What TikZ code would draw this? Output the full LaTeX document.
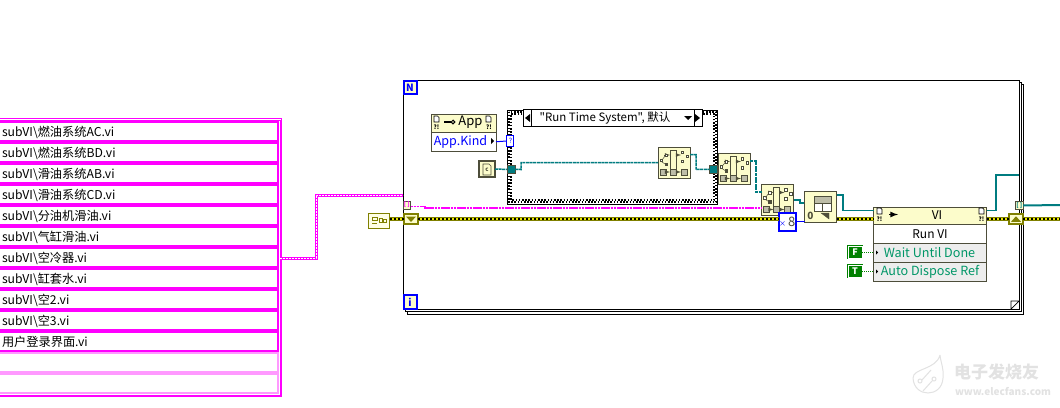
\documentclass[tikz,border=0pt]{standalone}
\usepackage{fontspec}
\usepackage{xcolor}
\setmainfont{Noto Sans CJK SC}
\newfontfamily\plaincjk{Noto Sans CJK SC}
\usetikzlibrary{positioning, calc}
\definecolor{pinkwire}{HTML}{FF00FF}
\definecolor{palepink}{HTML}{FF99FF}
\definecolor{tealwire}{HTML}{007C80}
\definecolor{olivewire}{HTML}{808000}
\definecolor{yellowwire}{HTML}{E8E800}
\definecolor{bluewire}{HTML}{0000FF}
\definecolor{boolgreen}{HTML}{008000}
\definecolor{nodefill}{HTML}{FCFCCB}
\definecolor{nodeedge}{HTML}{4D4D3A}
\definecolor{greybox}{HTML}{EDEDED}
\definecolor{faintgrey}{HTML}{E2E2E2}
\definecolor{icongrey}{HTML}{BDBDA8}

\begin{document}
\begin{tikzpicture}[
  x=1pt, y=-1pt,
  every node/.style={inner sep=0pt, outer sep=0pt, anchor=north west},
  cell/.style={rectangle, draw=pinkwire, line width=2pt, fill=white,
               minimum width=282.7pt, minimum height=19.3pt},
  blankcell/.style={cell, draw=palepink},
  celltext/.style={font=\fontsize{12.2}{13}\selectfont, text=black},
  vinode/.style={rectangle, draw=nodeedge, line width=1pt, fill=nodefill},
  iconbit/.style={draw=nodeedge, line width=0.7pt, fill=white},
  termbox/.style={rectangle, draw=bluewire, line width=2pt, fill=nodefill, align=center},
  boolconst/.style={rectangle, draw=boolgreen, line width=2pt, fill=boolgreen, text=white,
                    minimum width=14pt, minimum height=12pt, align=center,
                    font=\fontsize{9}{9}\selectfont\bfseries},
  hollowwire/.style={draw=pinkwire, line width=3pt, postaction={draw=white, line width=0.9pt, dash pattern=on 1.6pt off 1.4pt}},
  pinkline/.style={draw=pinkwire, line width=1.3pt, dash pattern=on 2.5pt off 0.7pt},
  tealline/.style={draw=tealwire, line width=1.5pt, dash pattern=on 3pt off 0.6pt},
  plainteal/.style={draw=tealwire, line width=1.2pt},
  errwire/.style={draw=olivewire, line width=3.4pt, postaction={draw=yellowwire, line width=1.6pt},
                  postaction={draw=black, line width=1.6pt, dash pattern=on 2pt off 2pt}},
  boolwire/.style={draw=boolgreen, line width=1pt, dash pattern=on 1pt off 1pt},
  tagicon/.pic={
    \draw[iconbit, fill=nodefill] (12,3) rectangle (18,22);
    \draw[iconbit, fill=icongrey] (12,22) rectangle (18,28);
    \draw[iconbit, fill=icongrey] (23,22) rectangle (29,28);
    \draw[iconbit, fill=icongrey] (2,22) rectangle (8,28);
    \draw[nodeedge, line width=0.8pt, -latex] (18,25) -- (23,25);
    \draw[nodeedge, line width=0.8pt, -latex] (8,25) -- (12,25);
    \draw[nodeedge, line width=0.8pt, -latex] (6,8) -- (12,8);
    \draw[nodeedge, line width=0.8pt, -latex] (18,8) -- (23,8);
    \foreach \bx/\by in {2/12, 7/7, 23/4, 28/8, 23/13} \draw[iconbit] (\bx,\by) rectangle ++(2.5,2.5);
    \draw[iconbit, fill=nodeedge] (7,16) rectangle ++(2.5,2.5);
    \draw[nodeedge, line width=0.5pt] (4,13) -- (7,9) (4,15) -- (7,17);
  },
  pageglyph/.pic={
    \draw[black, line width=0.7pt, fill=white] (0,0) -- (3.5,0) -- (5,1.5) -- (5,6) -- (0,6) -- cycle;
  }
]
  \useasboundingbox (0,0) rectangle (1060,407);
  \clip (0,0) rectangle (1060,407);

  % string array on the left
  \node[rectangle, draw=pinkwire, line width=1pt, minimum width=290pt, minimum height=278pt] (filearray) at (-8.5,118.5) {};
  \node[rectangle, draw=pinkwire, line width=1pt, minimum width=285pt, minimum height=274.5pt] (arrayinner) at (-5,120.5) {};
  \foreach \i/\t in {0/{subVI\textbackslash 燃油系统AC.vi}, 1/{subVI\textbackslash 燃油系统BD.vi},
                     2/{subVI\textbackslash 滑油系统AB.vi}, 3/{subVI\textbackslash 滑油系统CD.vi},
                     4/{subVI\textbackslash 分油机滑油.vi}, 5/{subVI\textbackslash 气缸滑油.vi},
                     6/{subVI\textbackslash 空冷器.vi}, 7/{subVI\textbackslash 缸套水.vi},
                     8/{subVI\textbackslash 空2.vi}, 9/{subVI\textbackslash 空3.vi},
                     10/{用户登录界面.vi}} {
    \node[cell] (row\i) at (-5,{121.7+21*\i}) {};
    \node[celltext, anchor=west] (rowtext\i) at (2,{132+21*\i}) {\t};
  }
  \foreach \i in {11,12} \node[blankcell] (row\i) at (-5,{121.7+21*\i}) {};

  % for loop frame
  \node[rectangle, draw=black, line width=1pt, fill=white, minimum width=616.5pt, minimum height=229.5pt] (loopback2) at (407,84.5) {};
  \node[rectangle, draw=black, line width=1pt, fill=white, minimum width=616.5pt, minimum height=229.5pt] (loopback1) at (405,82) {};
  \node[rectangle, draw=black, line width=1pt, fill=white, minimum width=616.3pt, minimum height=229.3pt] (loopfront) at (403,80) {};
  \coordinate (foldtop) at (1019,301);
  \coordinate (foldleft) at (1011,309);
  \draw[black, line width=0.7pt, fill=white] (foldleft) -- (foldleft |- foldtop) -- (foldtop) -- cycle;
  \node[termbox, minimum width=13pt, minimum height=13pt, font=\fontsize{10}{10}\selectfont\bfseries, text=bluewire] (countN) at (403.5,81) {N};
  \node[termbox, minimum width=13pt, minimum height=14pt, font=\fontsize{10}{10}\selectfont\bfseries, text=bluewire] (iterI) at (403.5,295) {i};

  % case structure
  \node[rectangle, draw=black, line width=1pt, fill=white, minimum width=210pt, minimum height=94pt] (casebox) at (507.5,110) {};
  \foreach \ins/\ph in {1.6/0, 3.6/1.6}
    \draw[black, line width=2pt, dash pattern=on 1.6pt off 1.6pt, dash phase=\ph pt]
      ([xshift=\ins pt, yshift=-\ins pt]casebox.north west) rectangle ([xshift=-\ins pt, yshift=\ins pt]casebox.south east);
  \node[rectangle, draw=black, line width=1pt, fill=white, minimum width=179pt, minimum height=17pt,
        font=\fontsize{11.5}{12}\selectfont, text=black] (caselabel) at (523,109.5) {};
  \node[font=\fontsize{11.5}{12}\selectfont\plaincjk, anchor=center] (casetext) at (605,118) {"Run Time System", 默认};
  \draw[black, line width=1pt] ([xshift=8pt]caselabel.north west) -- ([xshift=8pt]caselabel.south west);
  \draw[black, line width=1pt] ([xshift=-8pt]caselabel.north east) -- ([xshift=-8pt]caselabel.south east);
  \fill[black] ($(caselabel.west)+(2,0)$) -- ++(5,-4) -- ++(0,8) -- cycle;
  \fill[black] ($(caselabel.east)+(-2,0)$) -- ++(-5,-4) -- ++(0,8) -- cycle;
  \fill[black] (684,116) -- ++(8,0) -- ++(-4,4) -- cycle;
  \node[rectangle, draw=bluewire, line width=1pt, fill=white, minimum width=7pt, minimum height=11pt,
        font=\fontsize{7}{7}\selectfont, text=bluewire] (caseselect) at (506.5,135.5) {\hspace{1.3pt}?};

  % App property node
  \node[vinode, minimum width=65pt, minimum height=18pt] (apphead) at (431,114) {};
  \node[rectangle, draw=nodeedge, line width=1pt, fill=white, minimum width=65pt, minimum height=19.5pt] (appkind) at (431,132) {};
  \node[font=\fontsize{13}{13}\selectfont, anchor=center, text=black] (apptext) at (470.5,122.7) {App};
  \node[font=\fontsize{12.5}{13}\selectfont, anchor=center, text=bluewire] (kindtext) at (460.5,141.8) {App.Kind};
  \pic at (434,116) {pageglyph};
  \pic at (486,116) {pageglyph};
  \node[font=\fontsize{6}{6}\selectfont\bfseries, anchor=center] (apperrl) at (436.5,127.5) {?!};
  \node[font=\fontsize{6}{6}\selectfont\bfseries, anchor=center] (apperrr) at (489,127.5) {?!};
  \draw[black, line width=2pt] (444,122) -- (451,122);
  \draw[black, line width=1pt] (453,122) circle (1.8);
  \fill[black] (491,138) -- ++(3,3) -- ++(-3,3) -- cycle;
  \draw[bluewire, line width=1pt] (appkind.east) -- (caseselect.west);

  % small constants
  \node[rectangle, draw=olivewire, line width=1.2pt, fill=nodefill!50, minimum width=21pt, minimum height=15pt] (clusterconst) at (368.5,213.5) {};
  \draw[olivewire, line width=0.8pt] (372,217.5) rectangle ++(5,3) (379,218) rectangle ++(3,4) (383.5,219) rectangle ++(2.5,3) (372,223) -- ++(5,0);
  \node[rectangle, draw=nodeedge, line width=2pt, fill=nodefill, minimum width=16pt, minimum height=16pt] (pathconst) at (479,161) {};
  \draw[nodeedge, line width=0.7pt] (483,164) -- (489,164) -- (491,166) -- (491,175) -- (483,175) -- cycle;
  \node[font=\fontsize{6}{6}\selectfont\bfseries, anchor=center, text=nodeedge] (pathglyph) at (487,170) {c};
  \node[rectangle, draw=nodeedge, line width=0.8pt, fill=tealwire, minimum width=8pt, minimum height=8.5pt] (tunnelin) at (507,165.2) {};
  \node[rectangle, draw=nodeedge, line width=0.8pt, fill=tealwire, minimum width=8pt, minimum height=8.5pt] (tunnelout) at (709.5,165.2) {};

  % the three tag nodes and the split node
  \node[vinode, minimum width=32pt, minimum height=31pt] (tagone) at (658,147) {};
  \pic at (658,147) {tagicon};
  \node[vinode, minimum width=32pt, minimum height=31pt] (tagtwo) at (718,153.5) {};
  \pic at (718,153.5) {tagicon};
  \node[vinode, minimum width=32pt, minimum height=31pt] (tagthree) at (761.5,184.5) {};
  \pic at (761.5,184.5) {tagicon};
  \node[vinode, minimum width=32pt, minimum height=31pt] (splitnode) at (804.5,191.5) {};
  \draw[iconbit, fill=icongrey] (814,196) rectangle (831,203);
  \draw[iconbit] (814,203) rectangle (822.5,211);
  \draw[iconbit] (822.5,203) rectangle (831,211);
  \draw[nodeedge, fill=nodeedge] (821,213) -- (829,213) -- (829,219) -- cycle;
  \node[font=\fontsize{10}{10}\selectfont\bfseries, anchor=center, text=nodeedge] (splitzero) at (810.5,216) {0};

  % Run VI node
  \node[vinode, minimum width=113pt, minimum height=17.5pt] (runhead) at (873.5,207) {};
  \node[rectangle, draw=nodeedge, line width=1pt, fill=white, minimum width=113pt, minimum height=19pt] (runname) at (873.5,224.5) {};
  \node[rectangle, draw=nodeedge, line width=1pt, fill=greybox, minimum width=113pt, minimum height=19pt] (runwait) at (873.5,243.5) {};
  \node[rectangle, draw=nodeedge, line width=1pt, fill=greybox, minimum width=113pt, minimum height=19pt] (rundisp) at (873.5,262.5) {};
  \node[font=\fontsize{12}{12}\selectfont, anchor=center] (runvi) at (937,215.5) {VI};
  \node[font=\fontsize{12}{12}\selectfont, anchor=center] (runtext) at (930,233.8) {Run VI};
  \node[font=\fontsize{12.6}{13}\selectfont, anchor=center, text=tealwire!80!green] (waittext) at (929.5,252.8) {Wait Until Done};
  \node[font=\fontsize{12.6}{13}\selectfont, anchor=center, text=tealwire!80!green] (disptext) at (930,271.8) {Auto Dispose Ref};
  \pic at (877,208) {pageglyph};
  \pic at (979,208) {pageglyph};
  \node[font=\fontsize{6}{6}\selectfont\bfseries, anchor=center] (runerrl) at (879.5,219.5) {?!};
  \node[font=\fontsize{6}{6}\selectfont\bfseries, anchor=center] (runerrr) at (981.5,219.5) {?!};
  \draw[black, line width=1.6pt, -latex] (889,214.5) -- (898,214.5);
  \fill[black] (876,250.5) -- ++(2,2) -- ++(-2,2) -- cycle;
  \fill[black] (876,269.5) -- ++(2,2) -- ++(-2,2) -- cycle;
  \node[boolconst] (constF) at (848,246) {F};
  \node[boolconst] (constT) at (848,265) {T};
  \draw[white, line width=0.7pt] (constF.north west) rectangle (constF.south east);
  \draw[white, line width=0.7pt] (constT.north west) rectangle (constT.south east);

  % loop terminals, tunnels and shift registers
  \node[rectangle, draw=nodeedge, line width=1pt, fill=nodefill, minimum width=7.5pt, minimum height=8pt,
        font=\fontsize{6}{6}\selectfont\bfseries, text=pinkwire] (pinktunnel) at (403,201) {[\,]};
  \node[rectangle, draw=nodeedge, line width=1pt, fill=nodefill, minimum width=7.5pt, minimum height=8pt,
        font=\fontsize{6}{6}\selectfont\bfseries, text=tealwire] (tealtunnel) at (1015.5,201.5) {[\,]};
  \node[rectangle, draw=olivewire, line width=2pt, fill=nodefill, minimum width=14pt, minimum height=10pt] (shiftleft) at (404,214) {};
  \fill[olivewire] ($(shiftleft.center)+(-5,-2.5)$) -- ++(10,0) -- ++(-5,5.5) -- cycle;
  \node[rectangle, draw=olivewire, line width=2pt, fill=nodefill, minimum width=14pt, minimum height=10pt] (shiftright) at (1009,214) {};
  \fill[olivewire] ($(shiftright.center)+(-5,2.8)$) -- ++(10,0) -- ++(-5,-5.5) -- cycle;
  \node[rectangle, draw=bluewire, line width=2.4pt, fill=white, minimum width=17pt, minimum height=18pt,
        font=\fontsize{13}{13}\selectfont, text=nodeedge, align=center] (framebox) at (778.7,212.7) {{\fontsize{7}{7}\selectfont\textcolor{bluewire}{×}}\,8};

  \coordinate (tealend) at (1060,205);
  \coordinate (errend) at (1060,219);

  % wires
  \draw[hollowwire] (arrayinner.east |- rowtext6.west) -- (316,258) -- (316,195) -- (loopfront.west |- 0,195);
  \draw[pinkline] ([yshift=-1.5pt]pinktunnel.east) -- (425,206.5) -- (425,208) -- ([yshift=-8pt]tagthree.west);
  \draw[errwire] (clusterconst.east |- shiftleft.west) -- (shiftleft.west);
  \draw[errwire] (shiftleft.east) -- (shiftleft.east -| framebox.west);
  \draw[errwire] (splitnode.south east |- 0,219) -- (runhead.west |- 0,219);
  \draw[errwire] (runhead.east |- 0,219) -- (shiftright.west);
  \draw[errwire] (shiftright.east) -- (errend);
  \draw[tealline] (pathconst.east) -- (tunnelin.west);
  \draw[tealline] (tunnelin.east) -- (521,169.5) -- (521,162.5) -- (tagone.west);
  \draw[tealline] ([yshift=8pt]tagone.east) -- (696,154.5) -- (696,169.5) -- (tunnelout.west);
  \draw[tealline] ([yshift=8pt]tagtwo.east) -- (756,161) -- (756,192) -- ([yshift=8pt]tagthree.west);
  \draw[tealline] (tagthree.east) -- (800,200) -- (800,203) -- ([yshift=4pt]splitnode.west);
  \draw[plainteal] ([yshift=12pt]splitnode.east) -- (843,195) |- ([yshift=5pt]runhead.west);
  \draw[plainteal] ([yshift=5pt]runhead.east) -- (996,210.75) -- (996,175) -- (1019,175);
  \draw[draw=tealwire, line width=2pt] (tealtunnel.east) -- (tealend);
  \draw[bluewire, line width=1pt] (framebox.east) -- (framebox.east -| splitnode.west);
  \draw[boolwire] (constF.east) -- (constF.east -| runwait.west);
  \draw[boolwire] (constT.east) -- (constT.east -| rundisp.west);

  % faint mark in the corner
  \draw[faintgrey, line width=1pt, fill=white] (940,355) .. controls (941,364) and (944,368) .. (943,378) .. controls (942,398) and (914,398) .. (913,378) .. controls (913,368) and (936,370) .. (940,355);
  \draw[faintgrey, line width=1pt] (920,381) circle (2) (934,379) circle (2) (922,380) -- (931,370) (932,381) -- (923,391);
  \node[font=\fontsize{17}{17}\selectfont\bfseries, text=faintgrey, anchor=west] (marktext) at (954,372) {电子发烧友};
  \node[font=\fontsize{10}{10}\selectfont\bfseries, text=faintgrey, anchor=west] (markurl) at (955,391) {www.elecfans.com};
\end{tikzpicture}
\end{document}
